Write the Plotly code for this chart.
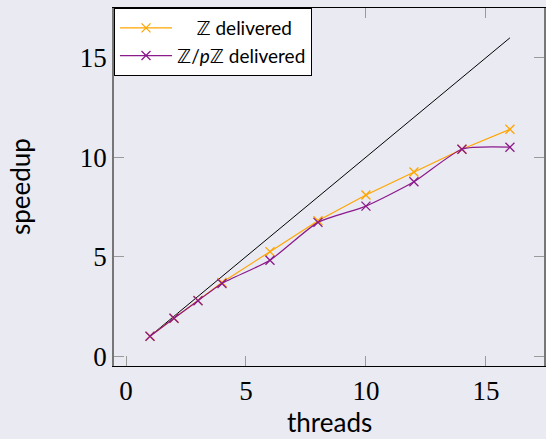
import plotly.graph_objects as go

threads = [1, 2, 3, 4, 6, 8, 10, 12, 14, 16]
z_delivered = [1.0, 1.9, 2.8, 3.7, 5.25, 6.8, 8.1, 9.25, 10.4, 11.4]
zp_delivered = [1.0, 1.9, 2.78, 3.65, 4.82, 6.72, 7.54, 8.76, 10.4, 10.5]
ideal_x = [1, 16]
ideal_y = [1, 16]
ticks = [0, 5, 10, 15]
tick_labels = ["0", "5", "10", "15"]
x_title = "threads"
y_title = "speedup"

bg = "#EAEAF2"
orange = "#FFA500"
purple = "#8B1A8B"
title_font = dict(family="Lato, DejaVu Sans", size=26, color="black")

fig = go.Figure()
fig.add_trace(go.Scatter(x=ideal_x, y=ideal_y, mode="lines",
                         line=dict(color="black", width=1), showlegend=False))
fig.add_trace(go.Scatter(x=threads, y=z_delivered, mode="lines+markers",
                         name="\u00a0\u00a0\u00a0\u00a0ℤ delivered",
                         line=dict(color=orange, width=1.2),
                         marker=dict(symbol="x-thin", size=9, line=dict(color=orange, width=1.3))))
fig.add_trace(go.Scatter(x=threads, y=zp_delivered, mode="lines+markers",
                         name="ℤ/<i>p</i>ℤ delivered",
                         line=dict(color=purple, width=1.2, shape="spline", smoothing=0.6),
                         marker=dict(symbol="x-thin", size=9, line=dict(color=purple, width=1.3))))

fig.add_annotation(text=x_title, xref="paper", yref="paper", x=0.5, y=0,
                   xanchor="center", yanchor="middle", yshift=-56,
                   showarrow=False, font=title_font)
fig.add_annotation(text=y_title, xref="paper", yref="paper", x=0, y=0.5,
                   xanchor="center", yanchor="middle", xshift=-94, textangle=-90,
                   showarrow=False, font=title_font)

fig.update_layout(
    width=546, height=439,
    margin=dict(l=114, r=0, t=8, b=73),
    paper_bgcolor=bg, plot_bgcolor=bg,
    showlegend=True,
    legend=dict(x=0, y=1, xanchor="left", yanchor="top",
                bgcolor="white", bordercolor="black", borderwidth=1,
                font=dict(family="Lato, DejaVu Sans", size=19, color="black"),
                itemwidth=52, tracegroupgap=0),
    xaxis=dict(range=[-0.5, 17.42], tickvals=ticks, ticktext=tick_labels,
               showgrid=False, zeroline=False,
               showline=True, linecolor="black", linewidth=1.2, mirror="ticks",
               ticks="inside", ticklen=10, tickcolor="#9a9a9a", tickwidth=1,
               tickfont=dict(family="Liberation Serif", size=27, color="black")),
    yaxis=dict(range=[-0.5, 17.5], tickvals=ticks, ticktext=tick_labels,
               showgrid=False, zeroline=False,
               showline=True, linecolor="#777777", linewidth=1.5, mirror="ticks",
               ticks="inside", ticklen=10, tickcolor="#9a9a9a", tickwidth=1,
               tickfont=dict(family="Liberation Serif", size=27, color="black")),
)

fig.write_html("out.html", config={"displayModeBar": False},
               post_script="document.body.style.margin='0';document.body.style.overflow='hidden';")
